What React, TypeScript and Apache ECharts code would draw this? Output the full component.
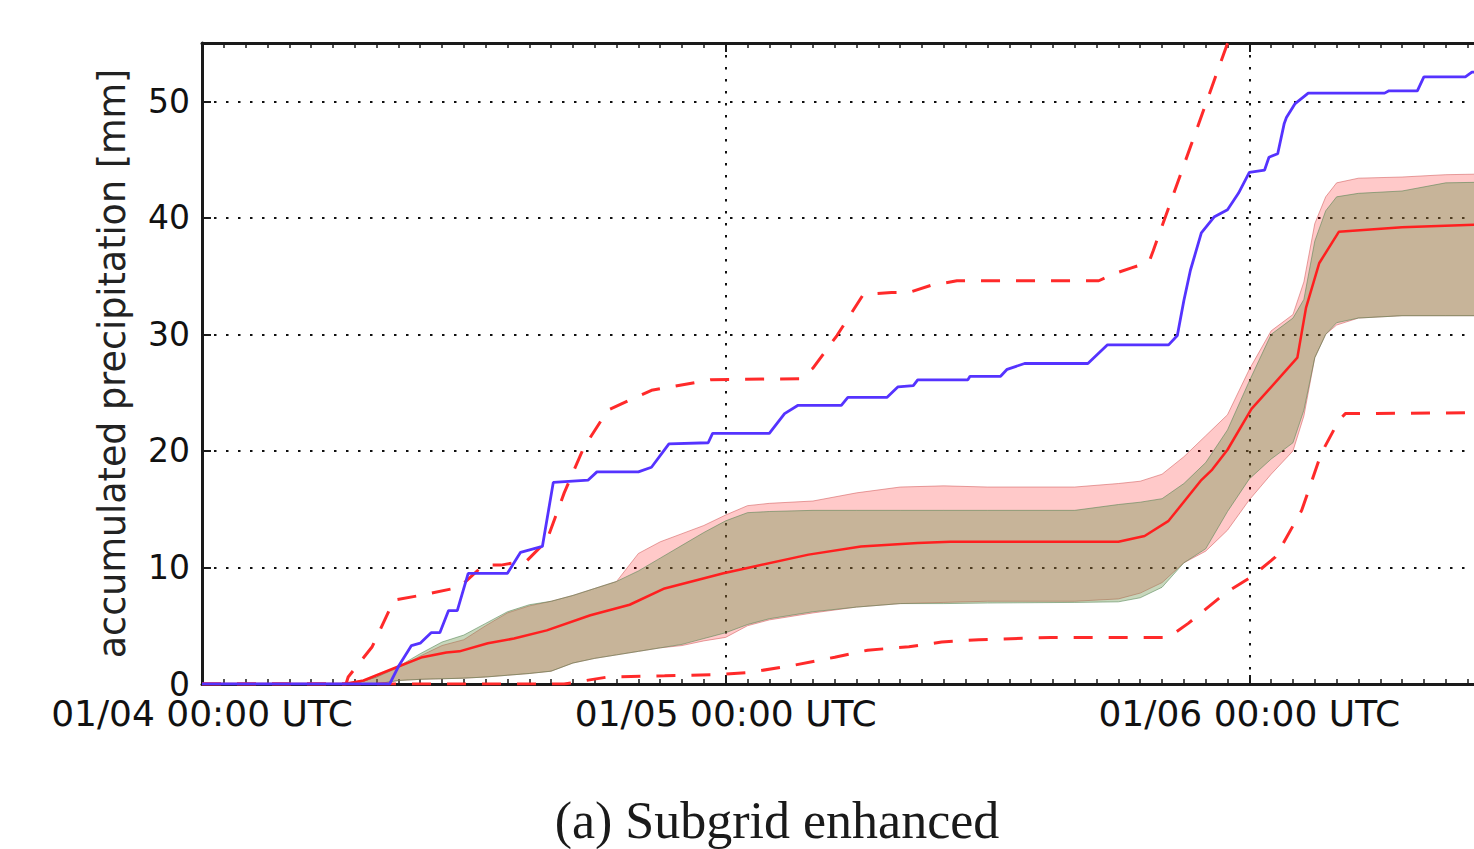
import React, { useEffect, useRef } from "react";
import * as echarts from "echarts";

// x values are hours since 01/04 00:00 UTC
const xTickValues = [0, 24, 48];
const xTickLabels = ["01/04 00:00 UTC", "01/05 00:00 UTC", "01/06 00:00 UTC"];
const yTickValues = [0, 10, 20, 30, 40, 50];

const observed: number[][] = [
  [0, 0], [8.6, 0], [9.0, 1.5], [9.6, 3.3], [10.0, 3.5], [10.5, 4.4], [10.9, 4.4], [11.3, 6.3],
  [11.7, 6.3], [12.2, 9.5], [14.0, 9.5], [14.6, 11.3], [15.6, 11.8], [16.1, 17.3], [17.7, 17.5],
  [18.1, 18.2], [20.0, 18.2], [20.6, 18.6], [21.4, 20.6], [23.2, 20.7], [23.4, 21.5], [26.0, 21.5],
  [26.7, 23.2], [27.3, 23.9], [29.3, 23.9], [29.6, 24.6], [31.4, 24.6], [31.9, 25.5], [32.6, 25.6],
  [32.8, 26.1], [35.1, 26.1], [35.2, 26.4], [36.6, 26.4], [36.9, 27.0], [37.7, 27.5], [40.6, 27.5],
  [41.5, 29.1], [44.3, 29.1], [44.7, 29.9], [45.0, 32.9], [45.3, 35.5], [45.8, 38.7], [46.4, 40.1],
  [47.0, 40.7], [47.5, 42.1], [48.0, 43.9], [48.7, 44.1], [48.9, 45.2], [49.3, 45.5], [49.6, 48.1],
  [49.7, 48.6], [50.1, 49.8], [50.7, 50.7], [54.2, 50.7], [54.4, 50.9], [55.7, 50.9], [56.0, 52.1],
  [57.9, 52.1], [58.2, 52.5], [60, 52.6],
];

const ensembleMax: number[][] = [
  [0, 0], [6.6, 0], [6.7, 0.6], [7.8, 3.2], [8.8, 7.2], [10.0, 7.6], [11.8, 8.3], [12.9, 10.2],
  [13.7, 10.2], [14.9, 10.6], [15.8, 12.3], [16.6, 16.4], [17.5, 20.3], [18.6, 23.5], [20.6, 25.2],
  [23.3, 26.1], [27.4, 26.2], [28.0, 27.1], [29.1, 29.9], [30.3, 33.4], [31.6, 33.6], [32.4, 33.6],
  [33.4, 34.2], [34.6, 34.6], [41.1, 34.6], [41.8, 35.2], [42.6, 35.7], [43.4, 36.2], [43.6, 37.2],
  [47.1, 55.5],
];

const ensembleMin: number[][] = [
  [0, 0], [16.6, 0], [18.6, 0.6], [21.2, 0.7], [23.5, 0.8], [25.1, 1.0], [27.1, 1.6], [29.0, 2.3],
  [30.5, 2.9], [32.4, 3.2], [33.9, 3.6], [35.6, 3.8], [38.9, 4.0], [44.3, 4.0], [45.2, 5.2],
  [46.9, 7.8], [48.1, 9.2], [49.2, 10.9], [50.4, 14.9], [51.3, 19.8], [52.1, 22.6], [52.4, 23.2],
  [60, 23.3],
];

const ensembleMedian: number[][] = [
  [0, 0], [6.5, 0], [7.4, 0.3], [9.0, 1.5], [10.1, 2.3], [11.2, 2.7], [11.8, 2.8], [13.1, 3.5],
  [14.3, 3.9], [15.8, 4.6], [17.8, 5.9], [19.6, 6.8], [21.2, 8.2], [23.9, 9.5], [25.1, 10.0],
  [27.8, 11.1], [30.2, 11.8], [32.8, 12.1], [34.3, 12.2], [42.0, 12.2], [43.2, 12.7], [44.3, 14.0],
  [45.8, 17.5], [46.3, 18.4], [47.0, 20.1], [48.1, 23.6], [50.2, 28.0], [50.6, 32.3], [51.2, 36.1],
  [52.1, 38.8], [55.0, 39.2], [60, 39.5],
];

const bandHours = [0, 7, 8, 9, 10, 11, 12, 13, 14, 15, 16, 17, 18, 19, 20, 21, 22, 23, 24, 25, 26, 28, 30, 32, 34, 36, 40, 42, 43, 44, 45, 46, 47, 48, 49, 50, 50.5, 51, 51.5, 52, 53, 55, 57, 60];
const redBandHigh = [0, 0, 0.6, 1.4, 2.4, 3.3, 3.8, 5.0, 6.1, 6.7, 7.1, 7.6, 8.2, 8.8, 11.2, 12.2, 12.9, 13.6, 14.5, 15.3, 15.5, 15.7, 16.4, 16.9, 17.0, 16.9, 16.9, 17.2, 17.4, 18.0, 19.5, 21.3, 23.1, 27.0, 30.3, 31.7, 34.5, 39.5, 41.8, 43.0, 43.4, 43.5, 43.7, 43.8];
const redBandLow = [0, 0, 0, 0.3, 0.4, 0.45, 0.5, 0.6, 0.75, 0.9, 1.1, 1.8, 2.2, 2.5, 2.8, 3.1, 3.3, 3.7, 4.0, 5.0, 5.5, 6.1, 6.6, 6.9, 7.0, 7.1, 7.1, 7.3, 7.8, 8.7, 10.4, 11.4, 13.2, 15.8, 18.0, 20.0, 23.0, 28.0, 30.0, 30.8, 31.4, 31.6, 31.6, 31.6];
const greenBandHigh = [0, 0, 0.6, 1.5, 2.6, 3.6, 4.2, 5.2, 6.2, 6.8, 7.1, 7.6, 8.2, 8.8, 9.7, 10.8, 11.9, 13.0, 14.0, 14.7, 14.8, 14.9, 14.9, 14.9, 14.9, 14.9, 14.9, 15.4, 15.6, 15.9, 17.2, 19.0, 21.8, 26.0, 30.0, 31.4, 33.0, 38.0, 40.6, 41.8, 42.1, 42.3, 43.0, 43.1];
const greenBandLow = [0, 0, 0, 0.3, 0.4, 0.45, 0.5, 0.6, 0.75, 0.9, 1.1, 1.8, 2.2, 2.5, 2.8, 3.1, 3.4, 3.9, 4.4, 5.1, 5.6, 6.2, 6.6, 6.9, 6.9, 6.95, 7.0, 7.05, 7.4, 8.3, 10.4, 11.6, 14.8, 17.6, 19.3, 20.7, 23.5, 28.0, 30.0, 31.0, 31.4, 31.6, 31.6, 31.6];

const AXIS_COLOR = "#1a1a1a";
const GRID_LINE = { color: "#111", width: 2, type: [2.5, 9.5] as number[] };

function bandSeries(name: string, low: number[], high: number[], fill: string, edge: string) {
  return {
    name,
    type: "custom",
    silent: true,
    clip: true,
    data: [[0, 0]],
    encode: { x: 0, y: 1 },
    renderItem: (_params: any, api: any) => {
      const top = bandHours.map((h, i) => api.coord([h, high[i]]));
      const bottom = bandHours.map((h, i) => api.coord([h, low[i]])).reverse();
      return {
        type: "group",
        children: [
          { type: "polygon", shape: { points: top.concat(bottom) }, style: { fill } },
          { type: "polyline", shape: { points: top }, style: { stroke: edge, fill: "none", lineWidth: 1 } },
          { type: "polyline", shape: { points: bottom }, style: { stroke: edge, fill: "none", lineWidth: 1 } },
        ],
      };
    },
  };
}

export default function App() {
  const ref = useRef<HTMLDivElement>(null);
  useEffect(() => {
    if (!ref.current) return;
    const chart = echarts.init(ref.current, null, { renderer: "svg" });
    const xAxisCommon = {
      type: "value",
      min: 0,
      max: 72,
      interval: 24,
      axisLine: { show: true, onZero: false, lineStyle: { color: AXIS_COLOR, width: 3 } },
      axisTick: { show: true, inside: true, length: 9, lineStyle: { color: AXIS_COLOR, width: 2 } },
      minorTick: { show: true, splitNumber: 24, length: 5, lineStyle: { color: AXIS_COLOR, width: 1.5 } },
    };
    chart.setOption({
      animation: false,
      textStyle: { fontFamily: "DejaVu Sans" },
      grid: { left: 202, top: 43, bottom: 165, right: 0, containLabel: false },
      xAxis: [
        {
          ...xAxisCommon,
          position: "bottom",
          axisLabel: {
            color: "#111",
            fontSize: 36,
            lineHeight: 34,
            margin: 12,
            formatter: (v: number) => {
              const i = xTickValues.indexOf(v);
              return i >= 0 ? xTickLabels[i] : "";
            },
          },
          splitLine: { show: true, lineStyle: GRID_LINE },
        },
        {
          ...xAxisCommon,
          position: "top",
          axisLabel: { show: false },
          splitLine: { show: false },
        },
      ],
      yAxis: {
        type: "value",
        min: 0,
        max: 55,
        interval: 10,
        name: "accumulated precipitation [mm]",
        nameLocation: "middle",
        nameGap: 71,
        nameTextStyle: { color: "#222", fontSize: 36.5 },
        axisLine: { show: true, lineStyle: { color: AXIS_COLOR, width: 3 } },
        axisTick: { show: true, inside: true, length: 9, lineStyle: { color: AXIS_COLOR, width: 2 } },
        axisLabel: {
          color: "#111",
          fontSize: 33,
          lineHeight: 24,
          margin: 12,
          formatter: (v: number) => (yTickValues.includes(v) ? String(v) : ""),
        },
        splitLine: { show: true, lineStyle: GRID_LINE },
      },
      graphic: [
        {
          type: "text",
          x: 777,
          y: 820,
          style: {
            text: "(a) Subgrid enhanced",
            font: "52px 'Liberation Serif'",
            fill: "#1a1a1a",
            textAlign: "center",
            textVerticalAlign: "middle",
          },
        },
      ],
      series: [
        bandSeries("red band", redBandLow, redBandHigh, "rgba(255,0,0,0.21)", "rgba(210,90,90,0.55)"),
        bandSeries("green band", greenBandLow, greenBandHigh, "rgba(100,145,70,0.36)", "rgba(80,130,80,0.55)"),
        {
          name: "max",
          type: "line",
          symbol: "none",
          data: ensembleMax,
          lineStyle: { color: "#ff2a2a", width: 3, type: [19, 16] },
          z: 5,
        },
        {
          name: "min",
          type: "line",
          symbol: "none",
          data: ensembleMin,
          lineStyle: { color: "#ff2a2a", width: 3, type: [19, 16] },
          z: 5,
        },
        {
          name: "median",
          type: "line",
          symbol: "none",
          data: ensembleMedian,
          lineStyle: { color: "#ff1f1f", width: 2.5 },
          z: 6,
        },
        {
          name: "observed",
          type: "line",
          symbol: "none",
          data: observed,
          lineStyle: { color: "#5533ff", width: 2.8 },
          z: 7,
        },
      ],
    });
    return () => chart.dispose();
  }, []);
  return (
    <div style={{ position: "fixed", left: 0, top: 0, width: 1474, height: 849, overflow: "hidden", background: "#fff" }}>
      <div ref={ref} style={{ position: "absolute", left: 0, top: 0, width: 1776, height: 849 }} />
    </div>
  );
}
